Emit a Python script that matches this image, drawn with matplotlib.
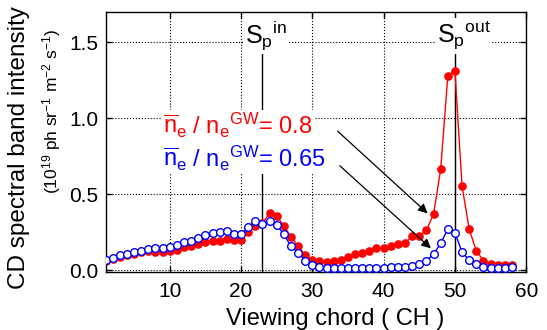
import matplotlib
matplotlib.use("Agg")
import matplotlib.pyplot as plt
import numpy as np

plt.rcParams['font.family'] = ['Liberation Sans', 'DejaVu Sans']
plt.rcParams['mathtext.fontset'] = 'custom'
plt.rcParams['mathtext.rm'] = 'Liberation Sans'
plt.rcParams['mathtext.it'] = 'Liberation Sans'
plt.rcParams['mathtext.default'] = 'regular'

# viewing chords
chords = list(range(1, 59))

# ne / neGW = 0.8
red_vals = [0.061, 0.072, 0.085, 0.098, 0.109, 0.118, 0.129, 0.123, 0.123, 0.129,
            0.134, 0.155, 0.160, 0.171, 0.184, 0.193, 0.195, 0.208, 0.200, 0.200,
            0.254, 0.290, 0.310, 0.375, 0.360, 0.291, 0.221, 0.160, 0.100, 0.070,
            0.059, 0.055, 0.059, 0.070, 0.088, 0.105, 0.117, 0.129, 0.145, 0.150,
            0.161, 0.172, 0.181, 0.224, 0.227, 0.264, 0.370, 0.664, 1.278, 1.313,
            0.555, 0.272, 0.128, 0.065, 0.039, 0.037, 0.037, 0.037]

# ne / neGW = 0.65
blue_vals = [0.068, 0.081, 0.099, 0.109, 0.120, 0.129, 0.142, 0.145, 0.145, 0.151,
             0.164, 0.190, 0.195, 0.212, 0.231, 0.248, 0.250, 0.261, 0.241, 0.237,
             0.283, 0.326, 0.302, 0.326, 0.298, 0.237, 0.160, 0.116, 0.065, 0.035,
             0.021, 0.015, 0.015, 0.015, 0.015, 0.015, 0.015, 0.015, 0.015, 0.019,
             0.020, 0.021, 0.024, 0.028, 0.039, 0.063, 0.107, 0.178, 0.272, 0.248,
             0.120, 0.068, 0.039, 0.024, 0.013, 0.013, 0.013, 0.020]

sp_in = 23
sp_out = 50

fig = plt.figure(figsize=(5.47, 3.30), dpi=100)
ax = fig.add_axes([0.193, 0.176, 0.769, 0.788])

ax.plot(chords, red_vals, '-o', color='red', lw=1.0, ms=5.2, mfc='red', mec='red', zorder=3)
ax.plot(chords, blue_vals, '-o', color='blue', lw=1.0, ms=5.5, mfc='white', mec='blue',
        mew=1.0, zorder=4)

ax.set_xlim(1, 60)
ax.set_ylim(-0.01, 1.7)
ax.set_xticks([10, 20, 30, 40, 50, 60])
ax.set_yticks([0.0, 0.5, 1.0, 1.5])
ax.set_yticklabels(['0.0', '0.5', '1.0', '1.5'])
ax.grid(True, ls=':', color='black', lw=0.8)
ax.tick_params(direction='in', top=True, right=True, length=4, width=1,
               labelsize=15)
ax.tick_params(axis='x', pad=7)
ax.tick_params(axis='y', pad=5)
for s in ax.spines.values():
    s.set_linewidth(1.0)

# separatrix strike points
ax.plot([sp_in, sp_in], [-0.01, 1.43], color='black', lw=1.0, zorder=2)
ax.plot([sp_out, sp_out], [-0.01, 1.43], color='black', lw=1.0, zorder=2)
box = dict(facecolor='white', edgecolor='none', pad=1)
ax.text(23.45, 1.495, r'S$_p{}^{in}$', fontsize=18, ha='center', va='baseline',
        bbox=box, zorder=5)
ax.text(51.2, 1.495, r'S$_p{}^{out}$', fontsize=18, ha='center', va='baseline',
        bbox=box, zorder=5)

ax.text(9.0, 0.895, r'$\overline{n}_e$ / $n_e{}^{GW}$= 0.8', color='red', fontsize=17,
        ha='left', va='baseline', bbox=box, zorder=5)
ax.text(9.0, 0.68, r'$\overline{n}_e$ / $n_e{}^{GW}$= 0.65', color='blue', fontsize=17,
        ha='left', va='baseline', bbox=box, zorder=5)

ax.annotate('', xy=(46.17, 0.375), xytext=(33.54, 0.916),
            arrowprops=dict(arrowstyle='-|>', color='black', lw=0.9,
                            mutation_scale=14, shrinkA=0, shrinkB=0), zorder=6)
ax.annotate('', xy=(46.63, 0.145), xytext=(33.86, 0.688),
            arrowprops=dict(arrowstyle='-|>', color='black', lw=0.9,
                            mutation_scale=14, shrinkA=0, shrinkB=0), zorder=6)

fig.text(0.6124, 0.015, 'Viewing chord ( CH )', fontsize=17, ha='center', va='baseline')
fig.text(0.035, 0.5515, 'CD spectral band intensity', fontsize=17.5, rotation=90,
         ha='center', va='center')
fig.text(0.095, 0.6636, r'(10$^{19}$ ph sr$^{-1}$ m$^{-2}$ s$^{-1}$)', fontsize=12.5,
         rotation=90, ha='center', va='center')

fig.savefig('out.png', dpi=100)
